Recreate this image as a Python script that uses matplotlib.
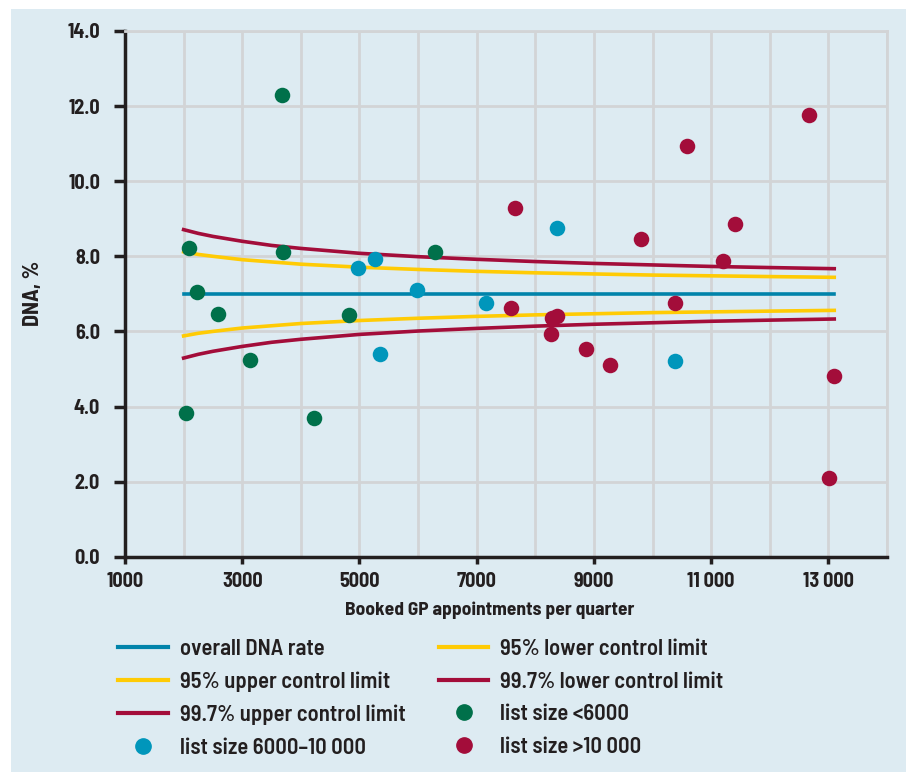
import numpy as np
import matplotlib.pyplot as plt
from matplotlib.lines import Line2D
from matplotlib.patches import Rectangle
from matplotlib.ticker import MultipleLocator

plt.rcParams['font.family'] = ['Barlow Semi Condensed', 'Roboto Condensed', 'DejaVu Sans']

# practices: booked appointments per quarter and DNA rate (%)
small_x = [2036, 2097, 2234, 2592, 3133, 3674, 3691, 4220, 4823, 6296]
small_y = [3.82, 8.23, 7.05, 6.46, 5.23, 12.30, 8.11, 3.69, 6.45, 8.11]

mid_x = [4976, 5272, 5352, 5989, 7163, 8377, 10375]
mid_y = [7.70, 7.93, 5.41, 7.10, 6.75, 8.75, 5.22]

large_x = [7581, 7660, 8262, 8286, 8372, 8866, 9276, 9797, 10375, 10580,
           11200, 11400, 12663, 13016, 13095]
large_y = [6.63, 9.29, 5.93, 6.37, 6.41, 5.52, 5.11, 8.46, 6.75, 10.93,
           7.88, 8.87, 11.76, 2.09, 4.81]

# control limits read along the funnel
lim_x = [2000, 2250, 2500, 3000, 3500, 4000, 5000, 6000, 7000, 8000,
         9000, 10000, 11000, 12000, 13100]
mean_rate = [7.0] * len(lim_x)
upper95 = [8.12, 8.05, 8.00, 7.91, 7.85, 7.79, 7.71, 7.65, 7.60, 7.56,
           7.53, 7.50, 7.48, 7.46, 7.44]
lower95 = [5.88, 5.95, 6.00, 6.09, 6.15, 6.21, 6.29, 6.35, 6.40, 6.44,
           6.47, 6.50, 6.52, 6.54, 6.56]
upper997 = [8.71, 8.61, 8.53, 8.40, 8.29, 8.21, 8.08, 7.99, 7.92, 7.86,
            7.81, 7.77, 7.73, 7.70, 7.67]
lower997 = [5.29, 5.39, 5.47, 5.60, 5.71, 5.79, 5.92, 6.01, 6.08, 6.14,
            6.19, 6.23, 6.27, 6.30, 6.33]

x_ticks = [1000, 3000, 5000, 7000, 9000, 11000, 13000]
x_labels = ['1000', '3000', '5000', '7000', '9000', '11\u2009000', '13\u2009000']
y_ticks = [0, 2, 4, 6, 8, 10, 12, 14]

bg = '#ddebf2'
c_green = '#00704a'
c_blue = '#0096bb'
c_red = '#a30d3a'
c_line = '#0083aa'
c_yellow = '#ffcb05'
grid_c = '#d2d4d6'
ink = '#231f20'

fig = plt.figure(figsize=(9.06, 7.72), dpi=100)
fig.patch.set_facecolor('white')
fig.patches.append(Rectangle((11 / 906, 0), 1, 1 - 9 / 772, transform=fig.transFigure,
                             facecolor=bg, edgecolor='none', zorder=-10))

ax = fig.add_axes([125 / 906, 1 - 556.7 / 772, 762 / 906, (556.7 - 31) / 772])
ax.set_facecolor(bg)
ax.set_xlim(1000, 14000)
ax.set_ylim(0, 14)

# grid every 1000 across, every 2 up
ax.xaxis.set_minor_locator(MultipleLocator(1000))
ax.set_xticks(x_ticks)
ax.set_xticklabels(x_labels)
ax.set_yticks(y_ticks)
ax.set_yticklabels([f'{v:.1f}' for v in y_ticks])
ax.grid(True, which='both', axis='x', color=grid_c, lw=2.0, zorder=0)
ax.grid(True, which='major', axis='y', color=grid_c, lw=2.0, zorder=0)
ax.set_axisbelow(True)

for s in ['top', 'right']:
    ax.spines[s].set_color(grid_c)
    ax.spines[s].set_linewidth(2.0)
for s in ['left', 'bottom']:
    ax.spines[s].set_color(ink)
    ax.spines[s].set_linewidth(2.5)

ax.tick_params(axis='both', which='major', direction='out', width=2.5,
               color=ink, labelsize=14.5, labelcolor=ink)
ax.tick_params(axis='y', length=8, pad=10)
ax.tick_params(axis='x', length=5, pad=6)
ax.tick_params(axis='x', which='minor', length=0)
for lab in ax.get_xticklabels() + ax.get_yticklabels():
    lab.set_fontweight('bold')

lw = 2.6
ax.plot(lim_x, mean_rate, color=c_line, lw=lw, zorder=3)
ax.plot(lim_x, upper95, color=c_yellow, lw=lw, zorder=3)
ax.plot(lim_x, lower95, color=c_yellow, lw=lw, zorder=3)
ax.plot(lim_x, upper997, color=c_red, lw=lw, zorder=3)
ax.plot(lim_x, lower997, color=c_red, lw=lw, zorder=3)

ms = 125
ax.scatter(small_x, small_y, s=ms, color=c_green, lw=0, zorder=4)
ax.scatter(mid_x, mid_y, s=ms, color=c_blue, lw=0, zorder=4)
ax.scatter(large_x, large_y, s=ms, color=c_red, lw=0, zorder=4)

ax.set_xlabel('Booked GP appointments per quarter', fontsize=14, fontweight='bold',
              color=ink)
ax.xaxis.set_label_coords((490 - 125) / 762, -0.085)
ax.set_ylabel('DNA, %', fontsize=16, fontweight='bold', color=ink)
ax.yaxis.set_label_coords((43 - 125) / 762, 0.5)

# legend, filled column by column
def lh(c):
    return Line2D([], [], color=c, lw=3)

def mh(c):
    return Line2D([], [], color=c, lw=0, marker='o', markersize=11)

handles = [lh(c_line), lh(c_yellow), lh(c_red), mh(c_blue),
           lh(c_yellow), lh(c_red), mh(c_green), mh(c_red)]
labels = ['overall DNA rate', '95% upper control limit', '99.7% upper control limit',
          'list size 6000\u201310\u2009000',
          '95% lower control limit', '99.7% lower control limit', 'list size <6000',
          'list size >10\u2009000']
leg = fig.legend(handles, labels, ncol=2, loc='upper left',
                 bbox_to_anchor=(98 / 906, 1 - 619 / 772), frameon=False,
                 fontsize=16.3, handlelength=2.17, handletextpad=0.53,
                 columnspacing=1.5, labelspacing=0.55, borderpad=0.4)
for t in leg.get_texts():
    t.set_color(ink)
    t.set_fontweight('semibold')

fig.savefig('out.png', dpi=100, facecolor=fig.get_facecolor())
